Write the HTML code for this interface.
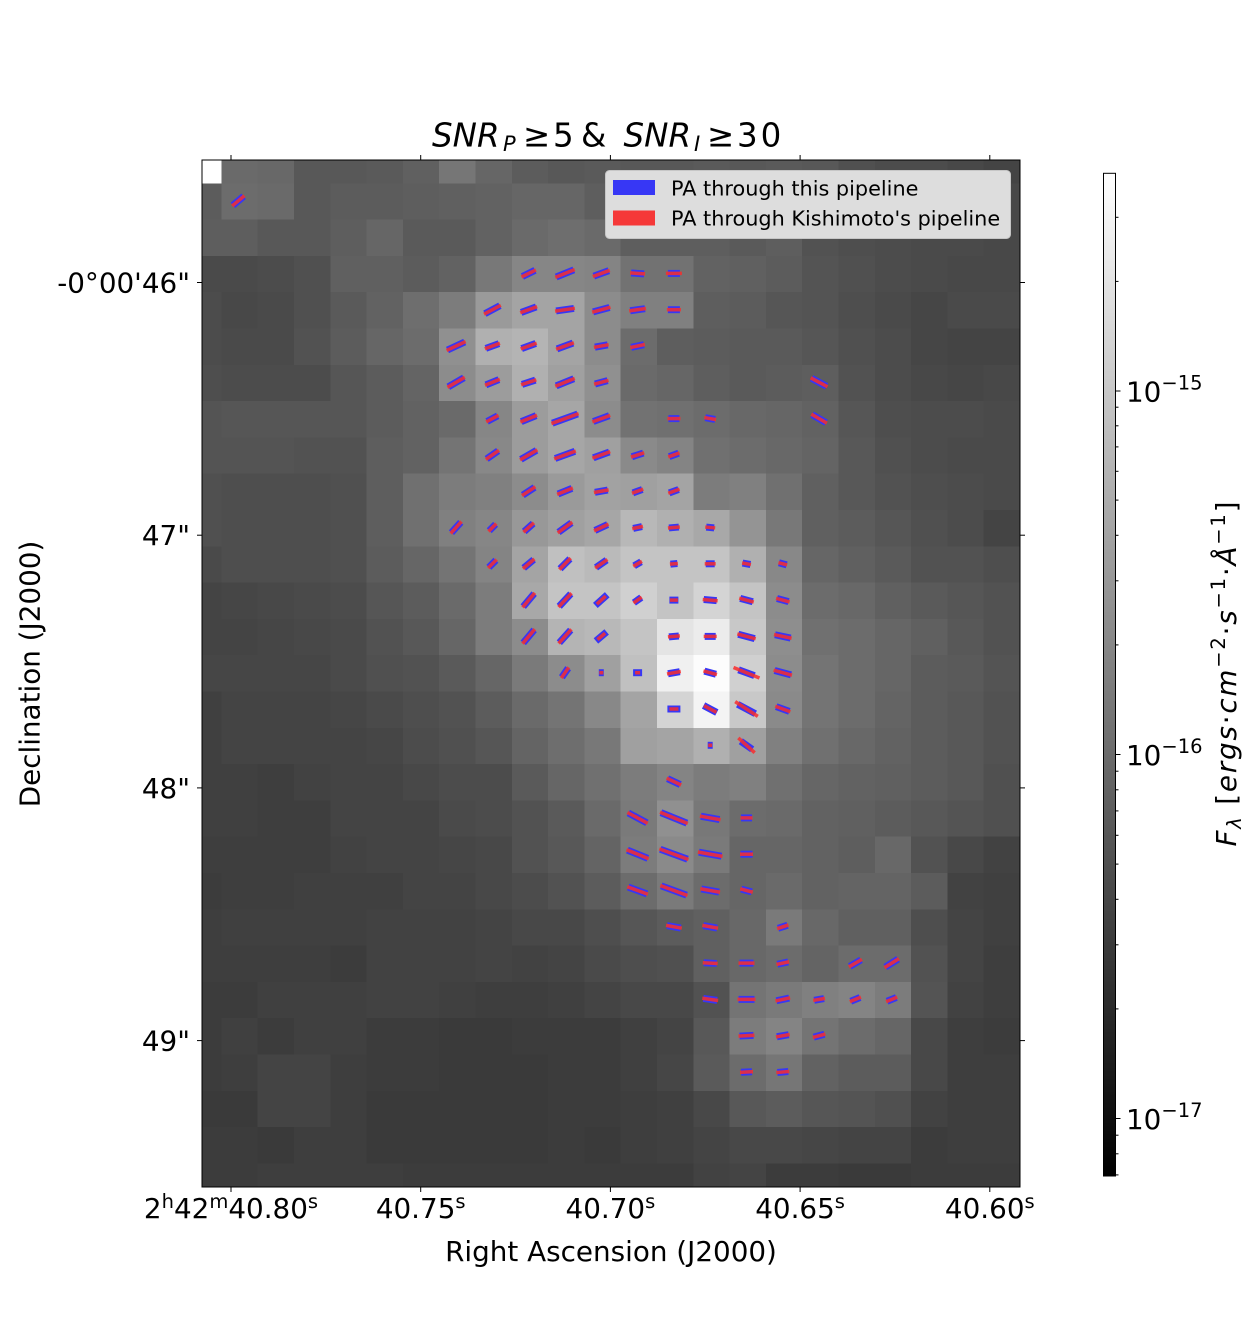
<!DOCTYPE html>
<html><head><meta charset="utf-8">
<style>
html,body{margin:0;padding:0;background:#fff;}
svg{display:block;font-family:"DejaVu Sans","Liberation Sans",sans-serif;}
.b{stroke:#3737f5;stroke-width:7;}
.r{stroke:rgba(248,45,45,0.85);stroke-width:3.5;}
.tk{stroke:#000;stroke-width:1;}
</style></head>
<body>
<svg width="1253" height="1334" viewBox="0 0 1253 1334" xmlns="http://www.w3.org/2000/svg">
<defs>
<clipPath id="pc"><rect x="202" y="160" width="818" height="1027"/></clipPath>
<linearGradient id="cb" x1="0" y1="0" x2="0" y2="1"><stop offset="0" stop-color="#ffffff"/><stop offset="1" stop-color="#000000"/></linearGradient>
</defs>
<rect width="1253" height="1334" fill="#fff"/>

<g clip-path="url(#pc)"><g transform="translate(221.4 183.3) scale(36.3)" shape-rendering="crispEdges">
<g transform="translate(0,-1)"><rect x="-1" width="1" height="1" fill="#ffffff"/><rect x="0" width="1" height="1" fill="#6a6a6a"/><rect x="1" width="1" height="1" fill="#686868"/><rect x="2" width="1" height="1" fill="#585858"/><rect x="3" width="1" height="1" fill="#585858"/><rect x="4" width="1" height="1" fill="#5a5a5a"/><rect x="5" width="1" height="1" fill="#606060"/><rect x="6" width="1" height="1" fill="#767676"/><rect x="7" width="1" height="1" fill="#666666"/><rect x="8" width="1" height="1" fill="#5c5c5c"/><rect x="9" width="1" height="1" fill="#585858"/><rect x="10" width="1" height="1" fill="#5a5a5a"/><rect x="11" width="1" height="1" fill="#585858"/><rect x="12" width="1" height="1" fill="#585858"/><rect x="13" width="1" height="1" fill="#5a5a5a"/><rect x="14" width="1" height="1" fill="#585858"/><rect x="15" width="1" height="1" fill="#5a5a5a"/><rect x="16" width="1" height="1" fill="#585858"/><rect x="17" width="1" height="1" fill="#505050"/><rect x="18" width="1" height="1" fill="#4c4c4c"/><rect x="19" width="1" height="1" fill="#4c4c4c"/><rect x="20" width="1" height="1" fill="#484848"/><rect x="21" width="1" height="1" fill="#444444"/></g>
<g transform="translate(0,0)"><rect x="-1" width="1" height="1" fill="#5c5c5c"/><rect x="0" width="1" height="1" fill="#6c6c6c"/><rect x="1" width="1" height="1" fill="#6a6a6a"/><rect x="2" width="1" height="1" fill="#585858"/><rect x="3" width="1" height="1" fill="#5c5c5c"/><rect x="4" width="1" height="1" fill="#5c5c5c"/><rect x="5" width="1" height="1" fill="#5e5e5e"/><rect x="6" width="1" height="1" fill="#606060"/><rect x="7" width="1" height="1" fill="#626262"/><rect x="8" width="1" height="1" fill="#666666"/><rect x="9" width="1" height="1" fill="#666666"/><rect x="10" width="1" height="1" fill="#5e5e5e"/><rect x="11" width="1" height="1" fill="#5e5e5e"/><rect x="12" width="1" height="1" fill="#5c5c5c"/><rect x="13" width="1" height="1" fill="#5c5c5c"/><rect x="14" width="1" height="1" fill="#5a5a5a"/><rect x="15" width="1" height="1" fill="#585858"/><rect x="16" width="1" height="1" fill="#565656"/><rect x="17" width="1" height="1" fill="#505050"/><rect x="18" width="1" height="1" fill="#4c4c4c"/><rect x="19" width="1" height="1" fill="#4a4a4a"/><rect x="20" width="1" height="1" fill="#484848"/><rect x="21" width="1" height="1" fill="#484848"/></g>
<g transform="translate(0,1)"><rect x="-1" width="1" height="1" fill="#5e5e5e"/><rect x="0" width="1" height="1" fill="#5e5e5e"/><rect x="1" width="1" height="1" fill="#585858"/><rect x="2" width="1" height="1" fill="#585858"/><rect x="3" width="1" height="1" fill="#5e5e5e"/><rect x="4" width="1" height="1" fill="#666666"/><rect x="5" width="1" height="1" fill="#5a5a5a"/><rect x="6" width="1" height="1" fill="#5a5a5a"/><rect x="7" width="1" height="1" fill="#626262"/><rect x="8" width="1" height="1" fill="#6a6a6a"/><rect x="9" width="1" height="1" fill="#6e6e6e"/><rect x="10" width="1" height="1" fill="#6a6a6a"/><rect x="11" width="1" height="1" fill="#5e5e5e"/><rect x="12" width="1" height="1" fill="#5e5e5e"/><rect x="13" width="1" height="1" fill="#5e5e5e"/><rect x="14" width="1" height="1" fill="#5a5a5a"/><rect x="15" width="1" height="1" fill="#5e5e5e"/><rect x="16" width="1" height="1" fill="#525252"/><rect x="17" width="1" height="1" fill="#4e4e4e"/><rect x="18" width="1" height="1" fill="#4c4c4c"/><rect x="19" width="1" height="1" fill="#4a4a4a"/><rect x="20" width="1" height="1" fill="#4a4a4a"/><rect x="21" width="1" height="1" fill="#484848"/></g>
<g transform="translate(0,2)"><rect x="-1" width="1" height="1" fill="#4a4a4a"/><rect x="0" width="1" height="1" fill="#4a4a4a"/><rect x="1" width="1" height="1" fill="#4c4c4c"/><rect x="2" width="1" height="1" fill="#505050"/><rect x="3" width="1" height="1" fill="#606060"/><rect x="4" width="1" height="1" fill="#606060"/><rect x="5" width="1" height="1" fill="#5c5c5c"/><rect x="6" width="1" height="1" fill="#626262"/><rect x="7" width="1" height="1" fill="#787878"/><rect x="8" width="1" height="1" fill="#868686"/><rect x="9" width="1" height="1" fill="#868686"/><rect x="10" width="1" height="1" fill="#848484"/><rect x="11" width="1" height="1" fill="#727272"/><rect x="12" width="1" height="1" fill="#727272"/><rect x="13" width="1" height="1" fill="#626262"/><rect x="14" width="1" height="1" fill="#606060"/><rect x="15" width="1" height="1" fill="#5c5c5c"/><rect x="16" width="1" height="1" fill="#545454"/><rect x="17" width="1" height="1" fill="#505050"/><rect x="18" width="1" height="1" fill="#4c4c4c"/><rect x="19" width="1" height="1" fill="#4a4a4a"/><rect x="20" width="1" height="1" fill="#484848"/><rect x="21" width="1" height="1" fill="#484848"/></g>
<g transform="translate(0,3)"><rect x="-1" width="1" height="1" fill="#4c4c4c"/><rect x="0" width="1" height="1" fill="#484848"/><rect x="1" width="1" height="1" fill="#4a4a4a"/><rect x="2" width="1" height="1" fill="#505050"/><rect x="3" width="1" height="1" fill="#5a5a5a"/><rect x="4" width="1" height="1" fill="#626262"/><rect x="5" width="1" height="1" fill="#6e6e6e"/><rect x="6" width="1" height="1" fill="#7c7c7c"/><rect x="7" width="1" height="1" fill="#9a9a9a"/><rect x="8" width="1" height="1" fill="#a4a4a4"/><rect x="9" width="1" height="1" fill="#a4a4a4"/><rect x="10" width="1" height="1" fill="#8c8c8c"/><rect x="11" width="1" height="1" fill="#808080"/><rect x="12" width="1" height="1" fill="#808080"/><rect x="13" width="1" height="1" fill="#5e5e5e"/><rect x="14" width="1" height="1" fill="#5c5c5c"/><rect x="15" width="1" height="1" fill="#565656"/><rect x="16" width="1" height="1" fill="#545454"/><rect x="17" width="1" height="1" fill="#4e4e4e"/><rect x="18" width="1" height="1" fill="#4a4a4a"/><rect x="19" width="1" height="1" fill="#464646"/><rect x="20" width="1" height="1" fill="#4a4a4a"/><rect x="21" width="1" height="1" fill="#4a4a4a"/></g>
<g transform="translate(0,4)"><rect x="-1" width="1" height="1" fill="#4c4c4c"/><rect x="0" width="1" height="1" fill="#4a4a4a"/><rect x="1" width="1" height="1" fill="#4a4a4a"/><rect x="2" width="1" height="1" fill="#525252"/><rect x="3" width="1" height="1" fill="#5c5c5c"/><rect x="4" width="1" height="1" fill="#666666"/><rect x="5" width="1" height="1" fill="#6c6c6c"/><rect x="6" width="1" height="1" fill="#909090"/><rect x="7" width="1" height="1" fill="#b0b0b0"/><rect x="8" width="1" height="1" fill="#b4b4b4"/><rect x="9" width="1" height="1" fill="#a4a4a4"/><rect x="10" width="1" height="1" fill="#8c8c8c"/><rect x="11" width="1" height="1" fill="#6c6c6c"/><rect x="12" width="1" height="1" fill="#5e5e5e"/><rect x="13" width="1" height="1" fill="#5c5c5c"/><rect x="14" width="1" height="1" fill="#5a5a5a"/><rect x="15" width="1" height="1" fill="#5a5a5a"/><rect x="16" width="1" height="1" fill="#565656"/><rect x="17" width="1" height="1" fill="#505050"/><rect x="18" width="1" height="1" fill="#4c4c4c"/><rect x="19" width="1" height="1" fill="#464646"/><rect x="20" width="1" height="1" fill="#444444"/><rect x="21" width="1" height="1" fill="#444444"/></g>
<g transform="translate(0,5)"><rect x="-1" width="1" height="1" fill="#4e4e4e"/><rect x="0" width="1" height="1" fill="#4c4c4c"/><rect x="1" width="1" height="1" fill="#4c4c4c"/><rect x="2" width="1" height="1" fill="#4c4c4c"/><rect x="3" width="1" height="1" fill="#565656"/><rect x="4" width="1" height="1" fill="#5c5c5c"/><rect x="5" width="1" height="1" fill="#646464"/><rect x="6" width="1" height="1" fill="#8c8c8c"/><rect x="7" width="1" height="1" fill="#9c9c9c"/><rect x="8" width="1" height="1" fill="#b0b0b0"/><rect x="9" width="1" height="1" fill="#a0a0a0"/><rect x="10" width="1" height="1" fill="#909090"/><rect x="11" width="1" height="1" fill="#6a6a6a"/><rect x="12" width="1" height="1" fill="#666666"/><rect x="13" width="1" height="1" fill="#5e5e5e"/><rect x="14" width="1" height="1" fill="#5a5a5a"/><rect x="15" width="1" height="1" fill="#5c5c5c"/><rect x="16" width="1" height="1" fill="#5e5e5e"/><rect x="17" width="1" height="1" fill="#525252"/><rect x="18" width="1" height="1" fill="#4c4c4c"/><rect x="19" width="1" height="1" fill="#484848"/><rect x="20" width="1" height="1" fill="#464646"/><rect x="21" width="1" height="1" fill="#484848"/></g>
<g transform="translate(0,6)"><rect x="-1" width="1" height="1" fill="#545454"/><rect x="0" width="1" height="1" fill="#565656"/><rect x="1" width="1" height="1" fill="#565656"/><rect x="2" width="1" height="1" fill="#565656"/><rect x="3" width="1" height="1" fill="#565656"/><rect x="4" width="1" height="1" fill="#5c5c5c"/><rect x="5" width="1" height="1" fill="#626262"/><rect x="6" width="1" height="1" fill="#6a6a6a"/><rect x="7" width="1" height="1" fill="#868686"/><rect x="8" width="1" height="1" fill="#9c9c9c"/><rect x="9" width="1" height="1" fill="#a6a6a6"/><rect x="10" width="1" height="1" fill="#8c8c8c"/><rect x="11" width="1" height="1" fill="#727272"/><rect x="12" width="1" height="1" fill="#707070"/><rect x="13" width="1" height="1" fill="#6c6c6c"/><rect x="14" width="1" height="1" fill="#686868"/><rect x="15" width="1" height="1" fill="#666666"/><rect x="16" width="1" height="1" fill="#626262"/><rect x="17" width="1" height="1" fill="#565656"/><rect x="18" width="1" height="1" fill="#4e4e4e"/><rect x="19" width="1" height="1" fill="#4c4c4c"/><rect x="20" width="1" height="1" fill="#4c4c4c"/><rect x="21" width="1" height="1" fill="#4a4a4a"/></g>
<g transform="translate(0,7)"><rect x="-1" width="1" height="1" fill="#545454"/><rect x="0" width="1" height="1" fill="#545454"/><rect x="1" width="1" height="1" fill="#545454"/><rect x="2" width="1" height="1" fill="#525252"/><rect x="3" width="1" height="1" fill="#525252"/><rect x="4" width="1" height="1" fill="#5e5e5e"/><rect x="5" width="1" height="1" fill="#626262"/><rect x="6" width="1" height="1" fill="#747474"/><rect x="7" width="1" height="1" fill="#888888"/><rect x="8" width="1" height="1" fill="#9c9c9c"/><rect x="9" width="1" height="1" fill="#a6a6a6"/><rect x="10" width="1" height="1" fill="#a0a0a0"/><rect x="11" width="1" height="1" fill="#8a8a8a"/><rect x="12" width="1" height="1" fill="#848484"/><rect x="13" width="1" height="1" fill="#707070"/><rect x="14" width="1" height="1" fill="#6c6c6c"/><rect x="15" width="1" height="1" fill="#686868"/><rect x="16" width="1" height="1" fill="#646464"/><rect x="17" width="1" height="1" fill="#585858"/><rect x="18" width="1" height="1" fill="#505050"/><rect x="19" width="1" height="1" fill="#4c4c4c"/><rect x="20" width="1" height="1" fill="#4a4a4a"/><rect x="21" width="1" height="1" fill="#4a4a4a"/></g>
<g transform="translate(0,8)"><rect x="-1" width="1" height="1" fill="#505050"/><rect x="0" width="1" height="1" fill="#4e4e4e"/><rect x="1" width="1" height="1" fill="#4e4e4e"/><rect x="2" width="1" height="1" fill="#4e4e4e"/><rect x="3" width="1" height="1" fill="#505050"/><rect x="4" width="1" height="1" fill="#5e5e5e"/><rect x="5" width="1" height="1" fill="#707070"/><rect x="6" width="1" height="1" fill="#7c7c7c"/><rect x="7" width="1" height="1" fill="#808080"/><rect x="8" width="1" height="1" fill="#8c8c8c"/><rect x="9" width="1" height="1" fill="#9a9a9a"/><rect x="10" width="1" height="1" fill="#a2a2a2"/><rect x="11" width="1" height="1" fill="#a0a0a0"/><rect x="12" width="1" height="1" fill="#a4a4a4"/><rect x="13" width="1" height="1" fill="#7c7c7c"/><rect x="14" width="1" height="1" fill="#808080"/><rect x="15" width="1" height="1" fill="#707070"/><rect x="16" width="1" height="1" fill="#606060"/><rect x="17" width="1" height="1" fill="#585858"/><rect x="18" width="1" height="1" fill="#525252"/><rect x="19" width="1" height="1" fill="#4e4e4e"/><rect x="20" width="1" height="1" fill="#4c4c4c"/><rect x="21" width="1" height="1" fill="#4a4a4a"/></g>
<g transform="translate(0,9)"><rect x="-1" width="1" height="1" fill="#505050"/><rect x="0" width="1" height="1" fill="#4e4e4e"/><rect x="1" width="1" height="1" fill="#4e4e4e"/><rect x="2" width="1" height="1" fill="#4e4e4e"/><rect x="3" width="1" height="1" fill="#505050"/><rect x="4" width="1" height="1" fill="#5e5e5e"/><rect x="5" width="1" height="1" fill="#707070"/><rect x="6" width="1" height="1" fill="#808080"/><rect x="7" width="1" height="1" fill="#868686"/><rect x="8" width="1" height="1" fill="#989898"/><rect x="9" width="1" height="1" fill="#a0a0a0"/><rect x="10" width="1" height="1" fill="#a6a6a6"/><rect x="11" width="1" height="1" fill="#b8b8b8"/><rect x="12" width="1" height="1" fill="#b0b0b0"/><rect x="13" width="1" height="1" fill="#a8a8a8"/><rect x="14" width="1" height="1" fill="#949494"/><rect x="15" width="1" height="1" fill="#787878"/><rect x="16" width="1" height="1" fill="#606060"/><rect x="17" width="1" height="1" fill="#5c5c5c"/><rect x="18" width="1" height="1" fill="#565656"/><rect x="19" width="1" height="1" fill="#505050"/><rect x="20" width="1" height="1" fill="#4c4c4c"/><rect x="21" width="1" height="1" fill="#444444"/></g>
<g transform="translate(0,10)"><rect x="-1" width="1" height="1" fill="#4a4a4a"/><rect x="0" width="1" height="1" fill="#4e4e4e"/><rect x="1" width="1" height="1" fill="#4e4e4e"/><rect x="2" width="1" height="1" fill="#4e4e4e"/><rect x="3" width="1" height="1" fill="#505050"/><rect x="4" width="1" height="1" fill="#5c5c5c"/><rect x="5" width="1" height="1" fill="#666666"/><rect x="6" width="1" height="1" fill="#747474"/><rect x="7" width="1" height="1" fill="#848484"/><rect x="8" width="1" height="1" fill="#a4a4a4"/><rect x="9" width="1" height="1" fill="#c0c0c0"/><rect x="10" width="1" height="1" fill="#bababa"/><rect x="11" width="1" height="1" fill="#c4c4c4"/><rect x="12" width="1" height="1" fill="#c4c4c4"/><rect x="13" width="1" height="1" fill="#c4c4c4"/><rect x="14" width="1" height="1" fill="#b0b0b0"/><rect x="15" width="1" height="1" fill="#888888"/><rect x="16" width="1" height="1" fill="#666666"/><rect x="17" width="1" height="1" fill="#606060"/><rect x="18" width="1" height="1" fill="#5a5a5a"/><rect x="19" width="1" height="1" fill="#525252"/><rect x="20" width="1" height="1" fill="#525252"/><rect x="21" width="1" height="1" fill="#4e4e4e"/></g>
<g transform="translate(0,11)"><rect x="-1" width="1" height="1" fill="#444444"/><rect x="0" width="1" height="1" fill="#464646"/><rect x="1" width="1" height="1" fill="#484848"/><rect x="2" width="1" height="1" fill="#4a4a4a"/><rect x="3" width="1" height="1" fill="#4c4c4c"/><rect x="4" width="1" height="1" fill="#565656"/><rect x="5" width="1" height="1" fill="#5c5c5c"/><rect x="6" width="1" height="1" fill="#6a6a6a"/><rect x="7" width="1" height="1" fill="#7c7c7c"/><rect x="8" width="1" height="1" fill="#a8a8a8"/><rect x="9" width="1" height="1" fill="#c4c4c4"/><rect x="10" width="1" height="1" fill="#c4c4c4"/><rect x="11" width="1" height="1" fill="#d0d0d0"/><rect x="12" width="1" height="1" fill="#c4c4c4"/><rect x="13" width="1" height="1" fill="#d4d4d4"/><rect x="14" width="1" height="1" fill="#c4c4c4"/><rect x="15" width="1" height="1" fill="#8c8c8c"/><rect x="16" width="1" height="1" fill="#6c6c6c"/><rect x="17" width="1" height="1" fill="#686868"/><rect x="18" width="1" height="1" fill="#606060"/><rect x="19" width="1" height="1" fill="#5a5a5a"/><rect x="20" width="1" height="1" fill="#565656"/><rect x="21" width="1" height="1" fill="#525252"/></g>
<g transform="translate(0,12)"><rect x="-1" width="1" height="1" fill="#444444"/><rect x="0" width="1" height="1" fill="#444444"/><rect x="1" width="1" height="1" fill="#464646"/><rect x="2" width="1" height="1" fill="#484848"/><rect x="3" width="1" height="1" fill="#4a4a4a"/><rect x="4" width="1" height="1" fill="#525252"/><rect x="5" width="1" height="1" fill="#585858"/><rect x="6" width="1" height="1" fill="#666666"/><rect x="7" width="1" height="1" fill="#7c7c7c"/><rect x="8" width="1" height="1" fill="#8c8c8c"/><rect x="9" width="1" height="1" fill="#b4b4b4"/><rect x="10" width="1" height="1" fill="#b8b8b8"/><rect x="11" width="1" height="1" fill="#c4c4c4"/><rect x="12" width="1" height="1" fill="#e4e4e4"/><rect x="13" width="1" height="1" fill="#ececec"/><rect x="14" width="1" height="1" fill="#c8c8c8"/><rect x="15" width="1" height="1" fill="#8e8e8e"/><rect x="16" width="1" height="1" fill="#707070"/><rect x="17" width="1" height="1" fill="#6c6c6c"/><rect x="18" width="1" height="1" fill="#666666"/><rect x="19" width="1" height="1" fill="#606060"/><rect x="20" width="1" height="1" fill="#585858"/><rect x="21" width="1" height="1" fill="#525252"/></g>
<g transform="translate(0,13)"><rect x="-1" width="1" height="1" fill="#464646"/><rect x="0" width="1" height="1" fill="#464646"/><rect x="1" width="1" height="1" fill="#464646"/><rect x="2" width="1" height="1" fill="#464646"/><rect x="3" width="1" height="1" fill="#4a4a4a"/><rect x="4" width="1" height="1" fill="#505050"/><rect x="5" width="1" height="1" fill="#525252"/><rect x="6" width="1" height="1" fill="#5a5a5a"/><rect x="7" width="1" height="1" fill="#666666"/><rect x="8" width="1" height="1" fill="#7a7a7a"/><rect x="9" width="1" height="1" fill="#8c8c8c"/><rect x="10" width="1" height="1" fill="#a0a0a0"/><rect x="11" width="1" height="1" fill="#c0c0c0"/><rect x="12" width="1" height="1" fill="#f0f0f0"/><rect x="13" width="1" height="1" fill="#fcfcfc"/><rect x="14" width="1" height="1" fill="#d0d0d0"/><rect x="15" width="1" height="1" fill="#8c8c8c"/><rect x="16" width="1" height="1" fill="#747474"/><rect x="17" width="1" height="1" fill="#6c6c6c"/><rect x="18" width="1" height="1" fill="#666666"/><rect x="19" width="1" height="1" fill="#5c5c5c"/><rect x="20" width="1" height="1" fill="#5a5a5a"/><rect x="21" width="1" height="1" fill="#545454"/></g>
<g transform="translate(0,14)"><rect x="-1" width="1" height="1" fill="#404040"/><rect x="0" width="1" height="1" fill="#444444"/><rect x="1" width="1" height="1" fill="#444444"/><rect x="2" width="1" height="1" fill="#444444"/><rect x="3" width="1" height="1" fill="#464646"/><rect x="4" width="1" height="1" fill="#4a4a4a"/><rect x="5" width="1" height="1" fill="#4e4e4e"/><rect x="6" width="1" height="1" fill="#525252"/><rect x="7" width="1" height="1" fill="#5c5c5c"/><rect x="8" width="1" height="1" fill="#6a6a6a"/><rect x="9" width="1" height="1" fill="#747474"/><rect x="10" width="1" height="1" fill="#888888"/><rect x="11" width="1" height="1" fill="#a4a4a4"/><rect x="12" width="1" height="1" fill="#d4d4d4"/><rect x="13" width="1" height="1" fill="#f4f4f4"/><rect x="14" width="1" height="1" fill="#c8c8c8"/><rect x="15" width="1" height="1" fill="#8a8a8a"/><rect x="16" width="1" height="1" fill="#747474"/><rect x="17" width="1" height="1" fill="#6c6c6c"/><rect x="18" width="1" height="1" fill="#646464"/><rect x="19" width="1" height="1" fill="#5c5c5c"/><rect x="20" width="1" height="1" fill="#585858"/><rect x="21" width="1" height="1" fill="#525252"/></g>
<g transform="translate(0,15)"><rect x="-1" width="1" height="1" fill="#404040"/><rect x="0" width="1" height="1" fill="#444444"/><rect x="1" width="1" height="1" fill="#444444"/><rect x="2" width="1" height="1" fill="#444444"/><rect x="3" width="1" height="1" fill="#444444"/><rect x="4" width="1" height="1" fill="#464646"/><rect x="5" width="1" height="1" fill="#4c4c4c"/><rect x="6" width="1" height="1" fill="#505050"/><rect x="7" width="1" height="1" fill="#565656"/><rect x="8" width="1" height="1" fill="#646464"/><rect x="9" width="1" height="1" fill="#6e6e6e"/><rect x="10" width="1" height="1" fill="#787878"/><rect x="11" width="1" height="1" fill="#a0a0a0"/><rect x="12" width="1" height="1" fill="#a4a4a4"/><rect x="13" width="1" height="1" fill="#b0b0b0"/><rect x="14" width="1" height="1" fill="#a0a0a0"/><rect x="15" width="1" height="1" fill="#808080"/><rect x="16" width="1" height="1" fill="#707070"/><rect x="17" width="1" height="1" fill="#686868"/><rect x="18" width="1" height="1" fill="#626262"/><rect x="19" width="1" height="1" fill="#5c5c5c"/><rect x="20" width="1" height="1" fill="#585858"/><rect x="21" width="1" height="1" fill="#525252"/></g>
<g transform="translate(0,16)"><rect x="-1" width="1" height="1" fill="#404040"/><rect x="0" width="1" height="1" fill="#404040"/><rect x="1" width="1" height="1" fill="#3e3e3e"/><rect x="2" width="1" height="1" fill="#424242"/><rect x="3" width="1" height="1" fill="#444444"/><rect x="4" width="1" height="1" fill="#444444"/><rect x="5" width="1" height="1" fill="#484848"/><rect x="6" width="1" height="1" fill="#4c4c4c"/><rect x="7" width="1" height="1" fill="#4c4c4c"/><rect x="8" width="1" height="1" fill="#5a5a5a"/><rect x="9" width="1" height="1" fill="#666666"/><rect x="10" width="1" height="1" fill="#707070"/><rect x="11" width="1" height="1" fill="#7c7c7c"/><rect x="12" width="1" height="1" fill="#848484"/><rect x="13" width="1" height="1" fill="#7c7c7c"/><rect x="14" width="1" height="1" fill="#808080"/><rect x="15" width="1" height="1" fill="#707070"/><rect x="16" width="1" height="1" fill="#666666"/><rect x="17" width="1" height="1" fill="#626262"/><rect x="18" width="1" height="1" fill="#606060"/><rect x="19" width="1" height="1" fill="#5c5c5c"/><rect x="20" width="1" height="1" fill="#585858"/><rect x="21" width="1" height="1" fill="#505050"/></g>
<g transform="translate(0,17)"><rect x="-1" width="1" height="1" fill="#404040"/><rect x="0" width="1" height="1" fill="#404040"/><rect x="1" width="1" height="1" fill="#3e3e3e"/><rect x="2" width="1" height="1" fill="#3e3e3e"/><rect x="3" width="1" height="1" fill="#444444"/><rect x="4" width="1" height="1" fill="#444444"/><rect x="5" width="1" height="1" fill="#444444"/><rect x="6" width="1" height="1" fill="#4a4a4a"/><rect x="7" width="1" height="1" fill="#4c4c4c"/><rect x="8" width="1" height="1" fill="#525252"/><rect x="9" width="1" height="1" fill="#5a5a5a"/><rect x="10" width="1" height="1" fill="#6a6a6a"/><rect x="11" width="1" height="1" fill="#7a7a7a"/><rect x="12" width="1" height="1" fill="#909090"/><rect x="13" width="1" height="1" fill="#787878"/><rect x="14" width="1" height="1" fill="#6c6c6c"/><rect x="15" width="1" height="1" fill="#6a6a6a"/><rect x="16" width="1" height="1" fill="#626262"/><rect x="17" width="1" height="1" fill="#606060"/><rect x="18" width="1" height="1" fill="#5c5c5c"/><rect x="19" width="1" height="1" fill="#585858"/><rect x="20" width="1" height="1" fill="#545454"/><rect x="21" width="1" height="1" fill="#505050"/></g>
<g transform="translate(0,18)"><rect x="-1" width="1" height="1" fill="#3e3e3e"/><rect x="0" width="1" height="1" fill="#3e3e3e"/><rect x="1" width="1" height="1" fill="#3e3e3e"/><rect x="2" width="1" height="1" fill="#3e3e3e"/><rect x="3" width="1" height="1" fill="#424242"/><rect x="4" width="1" height="1" fill="#444444"/><rect x="5" width="1" height="1" fill="#444444"/><rect x="6" width="1" height="1" fill="#464646"/><rect x="7" width="1" height="1" fill="#484848"/><rect x="8" width="1" height="1" fill="#525252"/><rect x="9" width="1" height="1" fill="#585858"/><rect x="10" width="1" height="1" fill="#646464"/><rect x="11" width="1" height="1" fill="#7c7c7c"/><rect x="12" width="1" height="1" fill="#8a8a8a"/><rect x="13" width="1" height="1" fill="#7a7a7a"/><rect x="14" width="1" height="1" fill="#666666"/><rect x="15" width="1" height="1" fill="#666666"/><rect x="16" width="1" height="1" fill="#626262"/><rect x="17" width="1" height="1" fill="#5e5e5e"/><rect x="18" width="1" height="1" fill="#686868"/><rect x="19" width="1" height="1" fill="#525252"/><rect x="20" width="1" height="1" fill="#484848"/><rect x="21" width="1" height="1" fill="#424242"/></g>
<g transform="translate(0,19)"><rect x="-1" width="1" height="1" fill="#3c3c3c"/><rect x="0" width="1" height="1" fill="#3e3e3e"/><rect x="1" width="1" height="1" fill="#3e3e3e"/><rect x="2" width="1" height="1" fill="#404040"/><rect x="3" width="1" height="1" fill="#404040"/><rect x="4" width="1" height="1" fill="#404040"/><rect x="5" width="1" height="1" fill="#444444"/><rect x="6" width="1" height="1" fill="#444444"/><rect x="7" width="1" height="1" fill="#484848"/><rect x="8" width="1" height="1" fill="#4c4c4c"/><rect x="9" width="1" height="1" fill="#525252"/><rect x="10" width="1" height="1" fill="#5c5c5c"/><rect x="11" width="1" height="1" fill="#6c6c6c"/><rect x="12" width="1" height="1" fill="#7a7a7a"/><rect x="13" width="1" height="1" fill="#6c6c6c"/><rect x="14" width="1" height="1" fill="#666666"/><rect x="15" width="1" height="1" fill="#6a6a6a"/><rect x="16" width="1" height="1" fill="#626262"/><rect x="17" width="1" height="1" fill="#646464"/><rect x="18" width="1" height="1" fill="#646464"/><rect x="19" width="1" height="1" fill="#5c5c5c"/><rect x="20" width="1" height="1" fill="#424242"/><rect x="21" width="1" height="1" fill="#404040"/></g>
<g transform="translate(0,20)"><rect x="-1" width="1" height="1" fill="#3e3e3e"/><rect x="0" width="1" height="1" fill="#404040"/><rect x="1" width="1" height="1" fill="#404040"/><rect x="2" width="1" height="1" fill="#404040"/><rect x="3" width="1" height="1" fill="#404040"/><rect x="4" width="1" height="1" fill="#424242"/><rect x="5" width="1" height="1" fill="#424242"/><rect x="6" width="1" height="1" fill="#424242"/><rect x="7" width="1" height="1" fill="#444444"/><rect x="8" width="1" height="1" fill="#484848"/><rect x="9" width="1" height="1" fill="#484848"/><rect x="10" width="1" height="1" fill="#4e4e4e"/><rect x="11" width="1" height="1" fill="#565656"/><rect x="12" width="1" height="1" fill="#5c5c5c"/><rect x="13" width="1" height="1" fill="#606060"/><rect x="14" width="1" height="1" fill="#686868"/><rect x="15" width="1" height="1" fill="#7a7a7a"/><rect x="16" width="1" height="1" fill="#686868"/><rect x="17" width="1" height="1" fill="#606060"/><rect x="18" width="1" height="1" fill="#606060"/><rect x="19" width="1" height="1" fill="#4e4e4e"/><rect x="20" width="1" height="1" fill="#444444"/><rect x="21" width="1" height="1" fill="#404040"/></g>
<g transform="translate(0,21)"><rect x="-1" width="1" height="1" fill="#3e3e3e"/><rect x="0" width="1" height="1" fill="#3e3e3e"/><rect x="1" width="1" height="1" fill="#3e3e3e"/><rect x="2" width="1" height="1" fill="#3e3e3e"/><rect x="3" width="1" height="1" fill="#3c3c3c"/><rect x="4" width="1" height="1" fill="#424242"/><rect x="5" width="1" height="1" fill="#424242"/><rect x="6" width="1" height="1" fill="#424242"/><rect x="7" width="1" height="1" fill="#444444"/><rect x="8" width="1" height="1" fill="#424242"/><rect x="9" width="1" height="1" fill="#444444"/><rect x="10" width="1" height="1" fill="#4a4a4a"/><rect x="11" width="1" height="1" fill="#4e4e4e"/><rect x="12" width="1" height="1" fill="#505050"/><rect x="13" width="1" height="1" fill="#606060"/><rect x="14" width="1" height="1" fill="#686868"/><rect x="15" width="1" height="1" fill="#6c6c6c"/><rect x="16" width="1" height="1" fill="#646464"/><rect x="17" width="1" height="1" fill="#6c6c6c"/><rect x="18" width="1" height="1" fill="#6c6c6c"/><rect x="19" width="1" height="1" fill="#525252"/><rect x="20" width="1" height="1" fill="#444444"/><rect x="21" width="1" height="1" fill="#3e3e3e"/></g>
<g transform="translate(0,22)"><rect x="-1" width="1" height="1" fill="#3c3c3c"/><rect x="0" width="1" height="1" fill="#3c3c3c"/><rect x="1" width="1" height="1" fill="#404040"/><rect x="2" width="1" height="1" fill="#404040"/><rect x="3" width="1" height="1" fill="#404040"/><rect x="4" width="1" height="1" fill="#424242"/><rect x="5" width="1" height="1" fill="#424242"/><rect x="6" width="1" height="1" fill="#404040"/><rect x="7" width="1" height="1" fill="#3e3e3e"/><rect x="8" width="1" height="1" fill="#3e3e3e"/><rect x="9" width="1" height="1" fill="#404040"/><rect x="10" width="1" height="1" fill="#444444"/><rect x="11" width="1" height="1" fill="#484848"/><rect x="12" width="1" height="1" fill="#484848"/><rect x="13" width="1" height="1" fill="#525252"/><rect x="14" width="1" height="1" fill="#747474"/><rect x="15" width="1" height="1" fill="#7a7a7a"/><rect x="16" width="1" height="1" fill="#808080"/><rect x="17" width="1" height="1" fill="#848484"/><rect x="18" width="1" height="1" fill="#7c7c7c"/><rect x="19" width="1" height="1" fill="#545454"/><rect x="20" width="1" height="1" fill="#424242"/><rect x="21" width="1" height="1" fill="#3e3e3e"/></g>
<g transform="translate(0,23)"><rect x="-1" width="1" height="1" fill="#3c3c3c"/><rect x="0" width="1" height="1" fill="#404040"/><rect x="1" width="1" height="1" fill="#3c3c3c"/><rect x="2" width="1" height="1" fill="#404040"/><rect x="3" width="1" height="1" fill="#404040"/><rect x="4" width="1" height="1" fill="#3c3c3c"/><rect x="5" width="1" height="1" fill="#3c3c3c"/><rect x="6" width="1" height="1" fill="#3a3a3a"/><rect x="7" width="1" height="1" fill="#3a3a3a"/><rect x="8" width="1" height="1" fill="#3c3c3c"/><rect x="9" width="1" height="1" fill="#3c3c3c"/><rect x="10" width="1" height="1" fill="#3c3c3c"/><rect x="11" width="1" height="1" fill="#404040"/><rect x="12" width="1" height="1" fill="#444444"/><rect x="13" width="1" height="1" fill="#585858"/><rect x="14" width="1" height="1" fill="#7c7c7c"/><rect x="15" width="1" height="1" fill="#848484"/><rect x="16" width="1" height="1" fill="#747474"/><rect x="17" width="1" height="1" fill="#6c6c6c"/><rect x="18" width="1" height="1" fill="#666666"/><rect x="19" width="1" height="1" fill="#484848"/><rect x="20" width="1" height="1" fill="#3e3e3e"/><rect x="21" width="1" height="1" fill="#3c3c3c"/></g>
<g transform="translate(0,24)"><rect x="-1" width="1" height="1" fill="#3c3c3c"/><rect x="0" width="1" height="1" fill="#3e3e3e"/><rect x="1" width="1" height="1" fill="#444444"/><rect x="2" width="1" height="1" fill="#444444"/><rect x="3" width="1" height="1" fill="#3e3e3e"/><rect x="4" width="1" height="1" fill="#3c3c3c"/><rect x="5" width="1" height="1" fill="#3c3c3c"/><rect x="6" width="1" height="1" fill="#3a3a3a"/><rect x="7" width="1" height="1" fill="#3a3a3a"/><rect x="8" width="1" height="1" fill="#3a3a3a"/><rect x="9" width="1" height="1" fill="#3c3c3c"/><rect x="10" width="1" height="1" fill="#3c3c3c"/><rect x="11" width="1" height="1" fill="#404040"/><rect x="12" width="1" height="1" fill="#464646"/><rect x="13" width="1" height="1" fill="#5a5a5a"/><rect x="14" width="1" height="1" fill="#6c6c6c"/><rect x="15" width="1" height="1" fill="#767676"/><rect x="16" width="1" height="1" fill="#626262"/><rect x="17" width="1" height="1" fill="#5c5c5c"/><rect x="18" width="1" height="1" fill="#5c5c5c"/><rect x="19" width="1" height="1" fill="#484848"/><rect x="20" width="1" height="1" fill="#3e3e3e"/><rect x="21" width="1" height="1" fill="#3e3e3e"/></g>
<g transform="translate(0,25)"><rect x="-1" width="1" height="1" fill="#3a3a3a"/><rect x="0" width="1" height="1" fill="#3a3a3a"/><rect x="1" width="1" height="1" fill="#444444"/><rect x="2" width="1" height="1" fill="#444444"/><rect x="3" width="1" height="1" fill="#3e3e3e"/><rect x="4" width="1" height="1" fill="#3a3a3a"/><rect x="5" width="1" height="1" fill="#3a3a3a"/><rect x="6" width="1" height="1" fill="#3a3a3a"/><rect x="7" width="1" height="1" fill="#3a3a3a"/><rect x="8" width="1" height="1" fill="#3a3a3a"/><rect x="9" width="1" height="1" fill="#3c3c3c"/><rect x="10" width="1" height="1" fill="#3c3c3c"/><rect x="11" width="1" height="1" fill="#3e3e3e"/><rect x="12" width="1" height="1" fill="#404040"/><rect x="13" width="1" height="1" fill="#484848"/><rect x="14" width="1" height="1" fill="#585858"/><rect x="15" width="1" height="1" fill="#5c5c5c"/><rect x="16" width="1" height="1" fill="#565656"/><rect x="17" width="1" height="1" fill="#545454"/><rect x="18" width="1" height="1" fill="#505050"/><rect x="19" width="1" height="1" fill="#424242"/><rect x="20" width="1" height="1" fill="#3e3e3e"/><rect x="21" width="1" height="1" fill="#3e3e3e"/></g>
<g transform="translate(0,26)"><rect x="-1" width="1" height="1" fill="#3c3c3c"/><rect x="0" width="1" height="1" fill="#3c3c3c"/><rect x="1" width="1" height="1" fill="#3a3a3a"/><rect x="2" width="1" height="1" fill="#3e3e3e"/><rect x="3" width="1" height="1" fill="#3e3e3e"/><rect x="4" width="1" height="1" fill="#3a3a3a"/><rect x="5" width="1" height="1" fill="#3a3a3a"/><rect x="6" width="1" height="1" fill="#3a3a3a"/><rect x="7" width="1" height="1" fill="#3a3a3a"/><rect x="8" width="1" height="1" fill="#3a3a3a"/><rect x="9" width="1" height="1" fill="#3c3c3c"/><rect x="10" width="1" height="1" fill="#3a3a3a"/><rect x="11" width="1" height="1" fill="#3e3e3e"/><rect x="12" width="1" height="1" fill="#404040"/><rect x="13" width="1" height="1" fill="#444444"/><rect x="14" width="1" height="1" fill="#484848"/><rect x="15" width="1" height="1" fill="#484848"/><rect x="16" width="1" height="1" fill="#464646"/><rect x="17" width="1" height="1" fill="#444444"/><rect x="18" width="1" height="1" fill="#444444"/><rect x="19" width="1" height="1" fill="#3c3c3c"/><rect x="20" width="1" height="1" fill="#3e3e3e"/><rect x="21" width="1" height="1" fill="#3e3e3e"/></g>
<g transform="translate(0,27)"><rect x="-1" width="1" height="1" fill="#3c3c3c"/><rect x="0" width="1" height="1" fill="#3c3c3c"/><rect x="1" width="1" height="1" fill="#3e3e3e"/><rect x="2" width="1" height="1" fill="#3e3e3e"/><rect x="3" width="1" height="1" fill="#3e3e3e"/><rect x="4" width="1" height="1" fill="#3e3e3e"/><rect x="5" width="1" height="1" fill="#3c3c3c"/><rect x="6" width="1" height="1" fill="#3c3c3c"/><rect x="7" width="1" height="1" fill="#3c3c3c"/><rect x="8" width="1" height="1" fill="#3c3c3c"/><rect x="9" width="1" height="1" fill="#3c3c3c"/><rect x="10" width="1" height="1" fill="#3c3c3c"/><rect x="11" width="1" height="1" fill="#3c3c3c"/><rect x="12" width="1" height="1" fill="#3c3c3c"/><rect x="13" width="1" height="1" fill="#424242"/><rect x="14" width="1" height="1" fill="#444444"/><rect x="15" width="1" height="1" fill="#3c3c3c"/><rect x="16" width="1" height="1" fill="#3c3c3c"/><rect x="17" width="1" height="1" fill="#3a3a3a"/><rect x="18" width="1" height="1" fill="#3a3a3a"/><rect x="19" width="1" height="1" fill="#3c3c3c"/><rect x="20" width="1" height="1" fill="#3c3c3c"/><rect x="21" width="1" height="1" fill="#3c3c3c"/></g>
</g></g>

<!-- vectors -->
<g>
<g transform="translate(238.3 200.8) rotate(-40)"><line x1="-7" x2="7" class="b"/><line x1="-8" x2="8" class="r"/></g>

<g transform="translate(528.7 273.4) rotate(-26)"><line x1="-7" x2="7" class="b"/><line x1="-8" x2="8" class="r"/></g>
<g transform="translate(565 273.4) rotate(-22)"><line x1="-9.5" x2="9.5" class="b"/><line x1="-10.5" x2="10.5" class="r"/></g>
<g transform="translate(601.3 273.4) rotate(-20)"><line x1="-8" x2="8" class="b"/><line x1="-9" x2="9" class="r"/></g>
<g transform="translate(637.6 273.4) rotate(4)"><line x1="-6.5" x2="6.5" class="b"/><line x1="-7.5" x2="7.5" class="r"/></g>
<g transform="translate(673.9 273.4) rotate(0)"><line x1="-6" x2="6" class="b"/><line x1="-8" x2="8" class="r"/></g>

<g transform="translate(492.4 309.7) rotate(-28)"><line x1="-8.5" x2="8.5" class="b"/><line x1="-9.5" x2="9.5" class="r"/></g>
<g transform="translate(528.7 309.7) rotate(-20)"><line x1="-8" x2="8" class="b"/><line x1="-9" x2="9" class="r"/></g>
<g transform="translate(565 309.7) rotate(-8)"><line x1="-9" x2="9" class="b"/><line x1="-10" x2="10" class="r"/></g>
<g transform="translate(601.3 309.7) rotate(-15)"><line x1="-8.5" x2="8.5" class="b"/><line x1="-9.5" x2="9.5" class="r"/></g>
<g transform="translate(637.6 309.7) rotate(-8)"><line x1="-7.5" x2="7.5" class="b"/><line x1="-8.5" x2="8.5" class="r"/></g>
<g transform="translate(673.9 309.7) rotate(0)"><line x1="-6" x2="6" class="b"/><line x1="-7" x2="7" class="r"/></g>

<g transform="translate(456.1 346) rotate(-25)"><line x1="-9.5" x2="9.5" class="b"/><line x1="-10.5" x2="10.5" class="r"/></g>
<g transform="translate(492.4 346) rotate(-20)"><line x1="-7" x2="7" class="b"/><line x1="-8" x2="8" class="r"/></g>
<g transform="translate(528.7 346) rotate(-20)"><line x1="-7.5" x2="7.5" class="b"/><line x1="-8.5" x2="8.5" class="r"/></g>
<g transform="translate(565 346) rotate(-20)"><line x1="-8.5" x2="8.5" class="b"/><line x1="-9.5" x2="9.5" class="r"/></g>
<g transform="translate(601.3 346) rotate(-10)"><line x1="-6.5" x2="6.5" class="b"/><line x1="-7.5" x2="7.5" class="r"/></g>
<g transform="translate(637.6 346) rotate(-12)"><line x1="-6.5" x2="6.5" class="b"/><line x1="-7.5" x2="7.5" class="r"/></g>

<g transform="translate(456.1 382.3) rotate(-30)"><line x1="-9" x2="9" class="b"/><line x1="-10" x2="10" class="r"/></g>
<g transform="translate(492.4 382.3) rotate(-22)"><line x1="-7" x2="7" class="b"/><line x1="-8" x2="8" class="r"/></g>
<g transform="translate(528.7 382.3) rotate(-18)"><line x1="-7" x2="7" class="b"/><line x1="-8" x2="8" class="r"/></g>
<g transform="translate(565 382.3) rotate(-22)"><line x1="-9.5" x2="9.5" class="b"/><line x1="-10.5" x2="10.5" class="r"/></g>
<g transform="translate(601.3 382.3) rotate(-15)"><line x1="-6.5" x2="6.5" class="b"/><line x1="-7.5" x2="7.5" class="r"/></g>
<g transform="translate(819.1 382.3) rotate(28)"><line x1="-8.5" x2="8.5" class="b"/><line x1="-9.5" x2="9.5" class="r"/></g>

<g transform="translate(492.4 418.6) rotate(-28)"><line x1="-6" x2="6" class="b"/><line x1="-7" x2="7" class="r"/></g>
<g transform="translate(528.7 418.6) rotate(-22)"><line x1="-8" x2="8" class="b"/><line x1="-9" x2="9" class="r"/></g>
<g transform="translate(565 418.6) rotate(-20)"><line x1="-13.5" x2="13.5" class="b"/><line x1="-14.5" x2="14.5" class="r"/></g>
<g transform="translate(601.3 418.6) rotate(-20)"><line x1="-8.5" x2="8.5" class="b"/><line x1="-9.5" x2="9.5" class="r"/></g>
<g transform="translate(673.9 418.6) rotate(0)"><line x1="-5.5" x2="5.5" class="b"/><line x1="-6.5" x2="6.5" class="r"/></g>
<g transform="translate(710.2 418.6) rotate(10)"><line x1="-5" x2="5" class="b"/><line x1="-6" x2="6" class="r"/></g>
<g transform="translate(819.1 418.6) rotate(30)"><line x1="-8" x2="8" class="b"/><line x1="-9" x2="9" class="r"/></g>

<g transform="translate(492.4 454.9) rotate(-35)"><line x1="-7" x2="7" class="b"/><line x1="-8" x2="8" class="r"/></g>
<g transform="translate(528.7 454.9) rotate(-30)"><line x1="-9" x2="9" class="b"/><line x1="-10" x2="10" class="r"/></g>
<g transform="translate(565 454.9) rotate(-20)"><line x1="-10.5" x2="10.5" class="b"/><line x1="-11.5" x2="11.5" class="r"/></g>
<g transform="translate(601.3 454.9) rotate(-20)"><line x1="-8.5" x2="8.5" class="b"/><line x1="-9.5" x2="9.5" class="r"/></g>
<g transform="translate(637.6 454.9) rotate(-18)"><line x1="-6" x2="6" class="b"/><line x1="-7" x2="7" class="r"/></g>
<g transform="translate(673.9 454.9) rotate(-20)"><line x1="-5" x2="5" class="b"/><line x1="-6" x2="6" class="r"/></g>

<g transform="translate(528.7 491.2) rotate(-33)"><line x1="-7" x2="7" class="b"/><line x1="-8" x2="8" class="r"/></g>
<g transform="translate(565 491.2) rotate(-22)"><line x1="-7.5" x2="7.5" class="b"/><line x1="-8.5" x2="8.5" class="r"/></g>
<g transform="translate(601.3 491.2) rotate(-10)"><line x1="-6.5" x2="6.5" class="b"/><line x1="-7.5" x2="7.5" class="r"/></g>
<g transform="translate(637.6 491.2) rotate(-20)"><line x1="-5" x2="5" class="b"/><line x1="-6" x2="6" class="r"/></g>
<g transform="translate(673.9 491.2) rotate(-20)"><line x1="-5" x2="5" class="b"/><line x1="-6" x2="6" class="r"/></g>

<g transform="translate(456.1 527.5) rotate(-48)"><line x1="-7" x2="7" class="b"/><line x1="-8" x2="8" class="r"/></g>
<g transform="translate(492.4 527.5) rotate(-45)"><line x1="-4.5" x2="4.5" class="b"/><line x1="-5.5" x2="5.5" class="r"/></g>
<g transform="translate(528.7 527.5) rotate(-42)"><line x1="-6" x2="6" class="b"/><line x1="-7" x2="7" class="r"/></g>
<g transform="translate(565 527.5) rotate(-36)"><line x1="-8" x2="8" class="b"/><line x1="-9" x2="9" class="r"/></g>
<g transform="translate(601.3 527.5) rotate(-25)"><line x1="-7" x2="7" class="b"/><line x1="-8" x2="8" class="r"/></g>
<g transform="translate(637.6 527.5) rotate(-12)"><line x1="-4.5" x2="4.5" class="b"/><line x1="-5.5" x2="5.5" class="r"/></g>
<g transform="translate(673.9 527.5) rotate(-5)"><line x1="-5" x2="5" class="b"/><line x1="-6" x2="6" class="r"/></g>
<g transform="translate(710.2 527.5) rotate(5)"><line x1="-4" x2="4" class="b"/><line x1="-5" x2="5" class="r"/></g>

<g transform="translate(492.4 563.8) rotate(-45)"><line x1="-5" x2="5" class="b"/><line x1="-6" x2="6" class="r"/></g>
<g transform="translate(528.7 563.8) rotate(-40)"><line x1="-6.5" x2="6.5" class="b"/><line x1="-7.5" x2="7.5" class="r"/></g>
<g transform="translate(565 563.8) rotate(-45)"><line x1="-7" x2="7" class="b"/><line x1="-8" x2="8" class="r"/></g>
<g transform="translate(601.3 563.8) rotate(-35)"><line x1="-6.5" x2="6.5" class="b"/><line x1="-7.5" x2="7.5" class="r"/></g>
<g transform="translate(637.6 563.8) rotate(-30)"><line x1="-4" x2="4" class="b"/><line x1="-5" x2="5" class="r"/></g>
<g transform="translate(673.9 563.8) rotate(-5)"><line x1="-3.5" x2="3.5" class="b"/><line x1="-4" x2="4" class="r"/></g>
<g transform="translate(710.2 563.8) rotate(0)"><line x1="-4.5" x2="4.5" class="b"/><line x1="-5.5" x2="5.5" class="r"/></g>
<g transform="translate(746.5 563.8) rotate(10)"><line x1="-4" x2="4" class="b"/><line x1="-4.5" x2="4.5" class="r"/></g>
<g transform="translate(782.8 563.8) rotate(15)"><line x1="-4" x2="4" class="b"/><line x1="-4.5" x2="4.5" class="r"/></g>

<g transform="translate(528.7 600.1) rotate(-50)"><line x1="-8.5" x2="8.5" class="b"/><line x1="-9.5" x2="9.5" class="r"/></g>
<g transform="translate(565 600.1) rotate(-47)"><line x1="-8.5" x2="8.5" class="b"/><line x1="-9.5" x2="9.5" class="r"/></g>
<g transform="translate(601.3 600.1) rotate(-42)"><line x1="-8" x2="8" class="b"/><line x1="-6" x2="6" class="r"/></g>
<g transform="translate(637.6 600.1) rotate(-35)"><line x1="-4.5" x2="4.5" class="b"/><line x1="-5" x2="5" class="r"/></g>
<g transform="translate(673.9 600.1) rotate(0)"><line x1="-4.5" x2="4.5" class="b"/><line x1="-4" x2="4" class="r"/></g>
<g transform="translate(710.2 600.1) rotate(5)"><line x1="-6.5" x2="6.5" class="b"/><line x1="-7.5" x2="7.5" class="r"/></g>
<g transform="translate(746.5 600.1) rotate(15)"><line x1="-6.5" x2="6.5" class="b"/><line x1="-7.5" x2="7.5" class="r"/></g>
<g transform="translate(782.8 600.1) rotate(15)"><line x1="-6" x2="6" class="b"/><line x1="-7" x2="7" class="r"/></g>

<g transform="translate(528.7 636.4) rotate(-50)"><line x1="-8.5" x2="8.5" class="b"/><line x1="-9.5" x2="9.5" class="r"/></g>
<g transform="translate(565 636.4) rotate(-48)"><line x1="-8.5" x2="8.5" class="b"/><line x1="-9.5" x2="9.5" class="r"/></g>
<g transform="translate(601.3 636.4) rotate(-40)"><line x1="-7" x2="7" class="b"/><line x1="-5" x2="5" class="r"/></g>
<g transform="translate(673.9 636.4) rotate(-5)"><line x1="-5" x2="5" class="b"/><line x1="-6" x2="6" class="r"/></g>
<g transform="translate(710.2 636.4) rotate(0)"><line x1="-5.5" x2="5.5" class="b"/><line x1="-6.5" x2="6.5" class="r"/></g>
<g transform="translate(746.5 636.4) rotate(15)"><line x1="-8.5" x2="8.5" class="b"/><line x1="-9.5" x2="9.5" class="r"/></g>
<g transform="translate(782.8 636.4) rotate(12)"><line x1="-8" x2="8" class="b"/><line x1="-9" x2="9" class="r"/></g>

<g transform="translate(565 672.7) rotate(-55)"><line x1="-5.5" x2="5.5" class="b"/><line x1="-6.5" x2="6.5" class="r"/></g>
<g transform="translate(601.3 672.7) rotate(0)"><line x1="-2.5" x2="2.5" class="b"/><line x1="-2" x2="2" class="r"/></g>
<g transform="translate(637.6 672.7) rotate(0)"><line x1="-4.5" x2="4.5" class="b"/><line x1="-2.5" x2="2.5" class="r"/></g>
<g transform="translate(673.9 672.7) rotate(-10)"><line x1="-6" x2="6" class="b"/><line x1="-7" x2="7" class="r"/></g>
<g transform="translate(710.2 672.7) rotate(15)"><line x1="-6" x2="6" class="b"/><line x1="-7" x2="7" class="r"/></g>
<g transform="translate(746.5 672.7) rotate(20)"><line x1="-8.5" x2="8.5" class="b"/></g>
<g transform="translate(746.5 672.7) rotate(22)"><line x1="-14" x2="14" class="r"/></g>
<g transform="translate(782.8 672.7) rotate(15)"><line x1="-8.5" x2="8.5" class="b"/><line x1="-9.5" x2="9.5" class="r"/></g>

<g transform="translate(673.9 709) rotate(0)"><line x1="-6.5" x2="6.5" class="b"/><line x1="-4.5" x2="4.5" class="r"/></g>
<g transform="translate(710.2 709) rotate(28)"><line x1="-7.5" x2="7.5" class="b"/><line x1="-7" x2="7" class="r"/></g>
<g transform="translate(746.5 709) rotate(28)"><line x1="-10" x2="10" class="b"/></g>
<g transform="translate(746.5 709) rotate(33)"><line x1="-13.5" x2="13.5" class="r"/></g>
<g transform="translate(782.8 709) rotate(20)"><line x1="-7" x2="7" class="b"/><line x1="-8" x2="8" class="r"/></g>

<g transform="translate(710.2 745.3) rotate(0)"><line x1="-2.5" x2="2.5" class="b"/><line x1="-2" x2="2" class="r"/></g>
<g transform="translate(746.5 745.3) rotate(35)"><line x1="-7" x2="7" class="b"/></g>
<g transform="translate(746.5 745.3) rotate(42)"><line x1="-11" x2="11" class="r"/></g>

<g transform="translate(673.9 781.6) rotate(25)"><line x1="-7" x2="7" class="b"/><line x1="-8" x2="8" class="r"/></g>

<g transform="translate(637.6 817.9) rotate(28)"><line x1="-10.5" x2="10.5" class="b"/><line x1="-11.5" x2="11.5" class="r"/></g>
<g transform="translate(673.9 817.9) rotate(22)"><line x1="-14" x2="14" class="b"/><line x1="-15" x2="15" class="r"/></g>
<g transform="translate(710.2 817.9) rotate(10)"><line x1="-9.5" x2="9.5" class="b"/><line x1="-10.5" x2="10.5" class="r"/></g>
<g transform="translate(746.5 817.9) rotate(0)"><line x1="-5.5" x2="5.5" class="b"/><line x1="-6" x2="6" class="r"/></g>

<g transform="translate(637.6 854.2) rotate(22)"><line x1="-11" x2="11" class="b"/><line x1="-12" x2="12" class="r"/></g>
<g transform="translate(673.9 854.2) rotate(20)"><line x1="-14.5" x2="14.5" class="b"/><line x1="-15.5" x2="15.5" class="r"/></g>
<g transform="translate(710.2 854.2) rotate(10)"><line x1="-11.5" x2="11.5" class="b"/><line x1="-12.5" x2="12.5" class="r"/></g>
<g transform="translate(746.5 854.2) rotate(0)"><line x1="-6" x2="6" class="b"/><line x1="-6.5" x2="6.5" class="r"/></g>

<g transform="translate(637.6 890.5) rotate(20)"><line x1="-10" x2="10" class="b"/><line x1="-11" x2="11" class="r"/></g>
<g transform="translate(673.9 890.5) rotate(20)"><line x1="-13.5" x2="13.5" class="b"/><line x1="-14.5" x2="14.5" class="r"/></g>
<g transform="translate(710.2 890.5) rotate(10)"><line x1="-9" x2="9" class="b"/><line x1="-10" x2="10" class="r"/></g>
<g transform="translate(746.5 890.5) rotate(15)"><line x1="-5.5" x2="5.5" class="b"/><line x1="-6.5" x2="6.5" class="r"/></g>

<g transform="translate(673.9 926.8) rotate(10)"><line x1="-7" x2="7" class="b"/><line x1="-8" x2="8" class="r"/></g>
<g transform="translate(710.2 926.8) rotate(10)"><line x1="-7" x2="7" class="b"/><line x1="-8" x2="8" class="r"/></g>
<g transform="translate(782.8 926.8) rotate(-18)"><line x1="-5" x2="5" class="b"/><line x1="-6" x2="6" class="r"/></g>

<g transform="translate(710.2 963.1) rotate(3)"><line x1="-6.5" x2="6.5" class="b"/><line x1="-7.5" x2="7.5" class="r"/></g>
<g transform="translate(746.5 963.1) rotate(0)"><line x1="-7" x2="7" class="b"/><line x1="-8" x2="8" class="r"/></g>
<g transform="translate(782.8 963.1) rotate(-12)"><line x1="-5.5" x2="5.5" class="b"/><line x1="-6.5" x2="6.5" class="r"/></g>
<g transform="translate(855.4 963.1) rotate(-30)"><line x1="-6.5" x2="6.5" class="b"/><line x1="-7.5" x2="7.5" class="r"/></g>
<g transform="translate(891.7 963.1) rotate(-32)"><line x1="-7.5" x2="7.5" class="b"/><line x1="-8.5" x2="8.5" class="r"/></g>

<g transform="translate(710.2 999.4) rotate(8)"><line x1="-7" x2="7" class="b"/><line x1="-8" x2="8" class="r"/></g>
<g transform="translate(746.5 999.4) rotate(0)"><line x1="-8" x2="8" class="b"/><line x1="-9" x2="9" class="r"/></g>
<g transform="translate(782.8 999.4) rotate(-12)"><line x1="-6.5" x2="6.5" class="b"/><line x1="-7.5" x2="7.5" class="r"/></g>
<g transform="translate(819.1 999.4) rotate(-10)"><line x1="-5" x2="5" class="b"/><line x1="-6" x2="6" class="r"/></g>
<g transform="translate(855.4 999.4) rotate(-22)"><line x1="-5" x2="5" class="b"/><line x1="-6" x2="6" class="r"/></g>
<g transform="translate(891.7 999.4) rotate(-22)"><line x1="-5" x2="5" class="b"/><line x1="-6" x2="6" class="r"/></g>

<g transform="translate(746.5 1035.7) rotate(-3)"><line x1="-7" x2="7" class="b"/><line x1="-8" x2="8" class="r"/></g>
<g transform="translate(782.8 1035.7) rotate(-10)"><line x1="-6" x2="6" class="b"/><line x1="-7" x2="7" class="r"/></g>
<g transform="translate(819.1 1035.7) rotate(-15)"><line x1="-5.5" x2="5.5" class="b"/><line x1="-6.5" x2="6.5" class="r"/></g>

<g transform="translate(746.5 1072) rotate(-3)"><line x1="-5.5" x2="5.5" class="b"/><line x1="-6.5" x2="6.5" class="r"/></g>
<g transform="translate(782.8 1072) rotate(-5)"><line x1="-5.5" x2="5.5" class="b"/><line x1="-6.5" x2="6.5" class="r"/></g>
</g>

<!-- legend -->
<rect x="605.5" y="170.5" width="405" height="68" rx="4" ry="4" fill="#dddddd" stroke="#c6c6c6" stroke-width="1"/>
<rect x="613" y="180" width="42" height="15" fill="#3737f5"/>
<rect x="613" y="210.5" width="42" height="15" fill="#f53838"/>
<text x="671" y="195.3" font-size="20.8" fill="#000">PA through this pipeline</text>
<text x="671" y="225.5" font-size="20.8" fill="#000">PA through Kishimoto's pipeline</text>

<!-- frame -->
<rect x="202" y="160" width="818" height="1027" fill="none" stroke="#000" stroke-width="1"/>
<g class="tk">
<line x1="231" y1="160" x2="231" y2="155"/><line x1="420.7" y1="160" x2="420.7" y2="155"/><line x1="610.4" y1="160" x2="610.4" y2="155"/><line x1="800.1" y1="160" x2="800.1" y2="155"/><line x1="989.8" y1="160" x2="989.8" y2="155"/>
<line x1="231" y1="1187" x2="231" y2="1192"/><line x1="420.7" y1="1187" x2="420.7" y2="1192"/><line x1="610.4" y1="1187" x2="610.4" y2="1192"/><line x1="800.1" y1="1187" x2="800.1" y2="1192"/><line x1="989.8" y1="1187" x2="989.8" y2="1192"/>
<line x1="202" y1="282.5" x2="197" y2="282.5"/><line x1="202" y1="535.2" x2="197" y2="535.2"/><line x1="202" y1="787.9" x2="197" y2="787.9"/><line x1="202" y1="1040.6" x2="197" y2="1040.6"/>
<line x1="1020" y1="282.5" x2="1025" y2="282.5"/><line x1="1020" y1="535.2" x2="1025" y2="535.2"/><line x1="1020" y1="787.9" x2="1025" y2="787.9"/><line x1="1020" y1="1040.6" x2="1025" y2="1040.6"/>
</g>

<!-- title -->
<g font-size="32.5" fill="#000">
<text x="432" y="146.5" font-style="italic">SNR</text>
<text x="503" y="151" font-style="italic" font-size="21">P</text>
<text x="523" y="146.5">≥</text>
<text x="553" y="146.5">5</text>
<text x="581" y="146.5">&amp;</text>
<text x="623.5" y="146.5" font-style="italic">SNR</text>
<text x="694" y="151" font-style="italic" font-size="21">I</text>
<text x="707" y="146.5">≥</text>
<text x="737" y="146.5" letter-spacing="3">30</text>
</g>

<!-- x tick labels -->
<g font-size="27.8" fill="#000" text-anchor="middle">
<text x="231" y="1218">2<tspan font-size="19.5" dy="-10">h</tspan><tspan dy="10">42</tspan><tspan font-size="19.5" dy="-10">m</tspan><tspan dy="10">40.80</tspan><tspan font-size="19.5" dy="-10">s</tspan></text>
<text x="420.7" y="1218">40.75<tspan font-size="19.5" dy="-10">s</tspan></text>
<text x="610.4" y="1218">40.70<tspan font-size="19.5" dy="-10">s</tspan></text>
<text x="800.1" y="1218">40.65<tspan font-size="19.5" dy="-10">s</tspan></text>
<text x="989.8" y="1218">40.60<tspan font-size="19.5" dy="-10">s</tspan></text>
</g>
<!-- y tick labels -->
<g font-size="27.8" fill="#000" text-anchor="end">
<text x="190" y="292.5">-0°00'46"</text>
<text x="190" y="545.2">47"</text>
<text x="190" y="797.9">48"</text>
<text x="190" y="1050.6">49"</text>
</g>
<!-- axis labels -->
<text x="611" y="1261" font-size="27.8" text-anchor="middle" fill="#000">Right Ascension (J2000)</text>
<text transform="translate(39.5 674) rotate(-90)" font-size="27.8" text-anchor="middle" fill="#000">Declination (J2000)</text>

<!-- colorbar -->
<rect x="1103.5" y="173.3" width="12" height="1002.7" fill="url(#cb)" stroke="#000" stroke-width="1"/>
<g class="tk">
<line x1="1115.5" y1="391" x2="1120.5" y2="391"/><line x1="1115.5" y1="754.5" x2="1120.5" y2="754.5"/><line x1="1115.5" y1="1118.5" x2="1120.5" y2="1118.5"/>
<line x1="1115.5" y1="217.3" x2="1118.5" y2="217.3"/><line x1="1115.5" y1="281.4" x2="1118.5" y2="281.4"/>
<line x1="1115.5" y1="407.2" x2="1118.5" y2="407.2"/><line x1="1115.5" y1="425.8" x2="1118.5" y2="425.8"/><line x1="1115.5" y1="446.9" x2="1118.5" y2="446.9"/><line x1="1115.5" y1="471.3" x2="1118.5" y2="471.3"/><line x1="1115.5" y1="500.1" x2="1118.5" y2="500.1"/><line x1="1115.5" y1="535.3" x2="1118.5" y2="535.3"/><line x1="1115.5" y1="580.8" x2="1118.5" y2="580.8"/><line x1="1115.5" y1="644.9" x2="1118.5" y2="644.9"/>
<line x1="1115.5" y1="771.2" x2="1118.5" y2="771.2"/><line x1="1115.5" y1="789.8" x2="1118.5" y2="789.8"/><line x1="1115.5" y1="810.9" x2="1118.5" y2="810.9"/><line x1="1115.5" y1="835.3" x2="1118.5" y2="835.3"/><line x1="1115.5" y1="864.1" x2="1118.5" y2="864.1"/><line x1="1115.5" y1="899.3" x2="1118.5" y2="899.3"/><line x1="1115.5" y1="944.8" x2="1118.5" y2="944.8"/><line x1="1115.5" y1="1008.9" x2="1118.5" y2="1008.9"/>
<line x1="1115.5" y1="1135.2" x2="1118.5" y2="1135.2"/><line x1="1115.5" y1="1153.8" x2="1118.5" y2="1153.8"/><line x1="1115.5" y1="1174.9" x2="1118.5" y2="1174.9"/>
</g>
<g font-size="27.8" fill="#000">
<text x="1126" y="401.5">10<tspan font-size="19.5" dy="-12">−15</tspan></text>
<text x="1126" y="765">10<tspan font-size="19.5" dy="-12">−16</tspan></text>
<text x="1126" y="1129">10<tspan font-size="19.5" dy="-12">−17</tspan></text>
</g>
<text transform="translate(1236 674) rotate(-90)" font-size="27.8" text-anchor="middle" fill="#000" textLength="345" lengthAdjust="spacing"><tspan font-style="italic">F</tspan><tspan font-style="italic" font-size="19.5" dy="5">λ</tspan><tspan dy="-5"> [</tspan><tspan font-style="italic">ergs</tspan><tspan>·</tspan><tspan font-style="italic">cm</tspan><tspan font-size="19.5" dy="-11">−2</tspan><tspan dy="11">·</tspan><tspan font-style="italic">s</tspan><tspan font-size="19.5" dy="-11">−1</tspan><tspan dy="11">·</tspan><tspan font-style="italic">Å</tspan><tspan font-size="19.5" dy="-11">−1</tspan><tspan dy="11">]</tspan></text>
</svg>
</body></html>
